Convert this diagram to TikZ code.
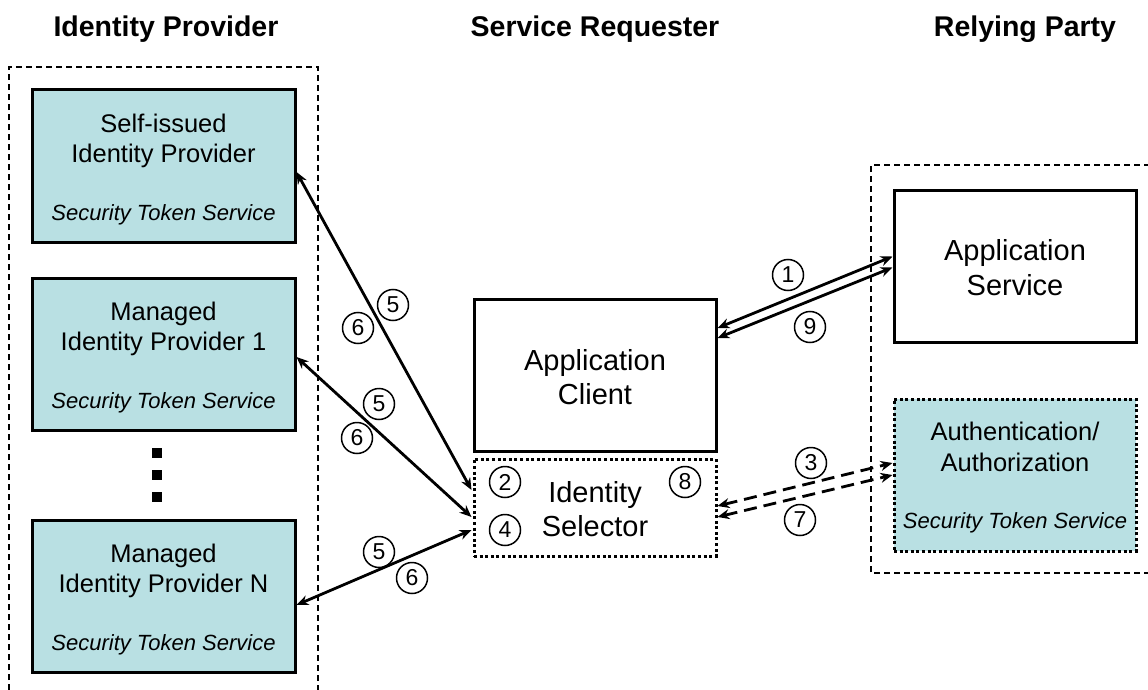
\documentclass[tikz,border=0pt]{standalone}
\usepackage{fontspec}
\setmainfont{Liberation Sans}
\usetikzlibrary{arrows.meta}
\definecolor{stsfill}{RGB}{185,224,227}
\begin{document}
\begin{tikzpicture}[x=1pt,y=-1pt,
  box/.style={draw=black, line width=3pt, minimum width=263pt, minimum height=152pt, inner sep=0pt},
  idpbox/.style={box, fill=stsfill},
  dotbox/.style={draw=black, line width=3pt, dash pattern=on 3pt off 2.6pt, minimum width=242pt, minimum height=97pt, inner sep=0pt},
  group/.style={draw=black, line width=1.4pt, dash pattern=on 6pt off 4pt},
  ttl/.style={font=\fontsize{28.5}{34}\selectfont\bfseries, anchor=base, inner sep=0pt},
  txt/.style={font=\fontsize{25.5}{30}\selectfont, anchor=base, inner sep=0pt},
  bigtxt/.style={font=\fontsize{29}{34}\selectfont, anchor=base, inner sep=0pt},
  sts/.style={font=\fontsize{22}{26}\selectfont\itshape, anchor=base, inner sep=0pt},
  num/.style={circle, draw=black, line width=1.5pt, minimum size=31pt, inner sep=0pt, font=\fontsize{23}{23}\selectfont},
  dotsq/.style={fill=black, minimum size=10pt, inner sep=0pt},
  conn/.style={line width=2.8pt, {Stealth[length=12pt,width=10pt]}-{Stealth[length=12pt,width=10pt]}},
  dconn/.style={conn, dash pattern=on 13pt off 7pt}
]
\useasboundingbox (0,0) rectangle (1148,690);

% titles
\node[ttl] (t1) at (166,36.7) {Identity Provider};
\node[ttl] (t2) at (595,36.7) {Service Requester};
\node[ttl] (t3) at (1025,36.7) {Relying Party};

% group frames
\draw[group] (9,700) -- (9,67) -- (318,67) -- (318,700);
\draw[group] (1160,573) -- (871,573) -- (871,165) -- (1160,165);

% identity providers
\node[idpbox] (sip) at (163.5,166) {};
\node[txt] (sipa) at (163.5,132) {Self-issued};
\node[txt] (sipb) at (163.5,162) {Identity Provider};
\node[sts] (sipc) at (163.5,220) {Security Token Service};

\node[idpbox] (mip1) at (163.5,354.5) {};
\node[txt] (mip1a) at (163.5,320) {Managed};
\node[txt] (mip1b) at (163.5,350) {Identity Provider 1};
\node[sts] (mip1c) at (163.5,408) {Security Token Service};

\node[dotsq] (d1) at (157,452.5) {};
\node[dotsq] (d2) at (157,474.5) {};
\node[dotsq] (d3) at (157,497) {};

\node[idpbox] (mipn) at (163.5,596) {};
\node[txt] (mipna) at (163.5,562) {Managed};
\node[txt] (mipnb) at (163.5,592) {Identity Provider N};
\node[sts] (mipnc) at (163.5,650) {Security Token Service};

% service requester
\node[box, minimum width=242pt, minimum height=152pt] (cli) at (595,375) {};
\node[bigtxt] (clia) at (595,370) {Application};
\node[bigtxt] (clib) at (595,404) {Client};

\node[dotbox] (sel) at (595,507.5) {};
\node[bigtxt] (sela) at (595,502) {Identity};
\node[bigtxt] (selb) at (595,536) {Selector};
\node[num] (n2) at (505,482) {2};
\node[num] (n4) at (505,530) {4};
\node[num] (n8) at (685,482) {8};

% relying party
\node[box, minimum width=242pt, minimum height=152pt] (svc) at (1015,266) {};
\node[bigtxt] (svca) at (1015,260) {Application};
\node[bigtxt] (svcb) at (1015,295) {Service};

\node[dotbox, fill=stsfill, minimum width=242pt, minimum height=152pt] (auth) at (1015,475) {};
\node[txt] (autha) at (1015,440) {Authentication/};
\node[txt] (authb) at (1015,471) {Authorization};
\node[sts] (authc) at (1015,528) {Security Token Service};

% connectors
\draw[conn] ([yshift=-6pt]sip.east) -- ([yshift=17.5pt,xshift=-1pt]sel.west);
\draw[conn] ([yshift=-2.5pt]mip1.east) -- ([yshift=-9.5pt,xshift=-1pt]sel.west);
\draw[conn] ([yshift=-9pt]mipn.east) -- ([yshift=-22.5pt,xshift=-1pt]sel.west);

\draw[conn] ([yshift=47pt]cli.east) -- ([yshift=9.5pt]svc.west);
\draw[conn] ([yshift=37pt]cli.east) -- ([yshift=-1.5pt]svc.west);

\draw[dconn] ([yshift=1.5pt]sel.east) -- ([yshift=12pt]auth.west);
\draw[dconn] ([yshift=-9.5pt]sel.east) -- ([yshift=0pt]auth.west);

% step labels
\node[num] (l5a) at (393,305) {5};
\node[num] (l6a) at (358,328) {6};
\node[num] (l5b) at (379,404) {5};
\node[num] (l6b) at (357,438) {6};
\node[num] (l5c) at (379,552) {5};
\node[num] (l6c) at (412,578) {6};
\node[num] (l1) at (788,275) {1};
\node[num] (l9) at (810,327) {9};
\node[num] (l3) at (811,463) {3};
\node[num] (l7) at (800,520) {7};
\end{tikzpicture}
\end{document}
